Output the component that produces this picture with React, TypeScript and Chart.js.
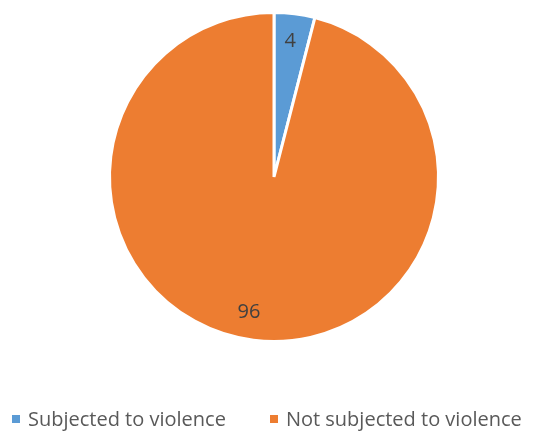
import React, { useEffect, useRef } from "react";
import { Chart, registerables } from "chart.js";

Chart.register(...registerables);

const categories = ["Subjected to violence", "Not subjected to violence"];
const values = [4, 96];
const colors = ["#5B9BD5", "#ED7D31"];

const labelPlugin = {
  id: "sliceLabels",
  afterDatasetsDraw(chart: any) {
    const ctx = chart.ctx;
    const meta = chart.getDatasetMeta(0);
    ctx.save();
    ctx.font = '20px "Open Sans", Lato, sans-serif';
    ctx.fillStyle = "#404040";
    ctx.textAlign = "center";
    ctx.textBaseline = "middle";
    meta.data.forEach((arc: any, i: number) => {
      const { x, y, startAngle, endAngle, outerRadius } = arc.getProps(
        ["x", "y", "startAngle", "endAngle", "outerRadius"],
        true
      );
      const mid = (startAngle + endAngle) / 2;
      const r = outerRadius * 0.83;
      const shift = i === 1 ? -8 : -1;
      ctx.fillText(String(values[i]), x + Math.cos(mid) * r + shift, y + Math.sin(mid) * r);
    });
    ctx.restore();
  },
};

export default function App() {
  const ref = useRef<HTMLCanvasElement>(null);
  useEffect(() => {
    document.body.style.margin = "0";
    const chart = new Chart(ref.current!, {
      type: "pie",
      data: {
        labels: categories,
        datasets: [
          {
            data: values,
            backgroundColor: colors,
            borderColor: "#ffffff",
            borderWidth: 3,
          },
        ],
      },
      options: {
        animation: false,
        responsive: false,
        layout: { padding: { top: 11, bottom: 93, left: 0, right: 4 } },
        plugins: {
          legend: { display: false },
          tooltip: { enabled: false },
        },
      },
      plugins: [labelPlugin],
    });
    return () => chart.destroy();
  }, []);

  const legendItem = (i: number) => (
    <div style={{ display: "flex", alignItems: "center" }}>
      <span
        style={{
          display: "inline-block",
          width: 8,
          height: 8,
          background: colors[i],
          marginRight: 8,
        }}
      />
      <span>{categories[i]}</span>
    </div>
  );

  return (
    <div style={{ position: "relative", width: 552, height: 436, background: "#fff" }}>
      <canvas ref={ref} width={552} height={436} style={{ display: "block" }} />
      <div
        style={{
          position: "absolute",
          left: 12,
          top: 406,
          display: "flex",
          gap: 44,
          fontFamily: '"Open Sans", Lato, sans-serif',
          fontSize: 20,
          color: "#595959",
          lineHeight: "26px",
          whiteSpace: "nowrap",
        }}
      >
        {legendItem(0)}
        {legendItem(1)}
      </div>
    </div>
  );
}
